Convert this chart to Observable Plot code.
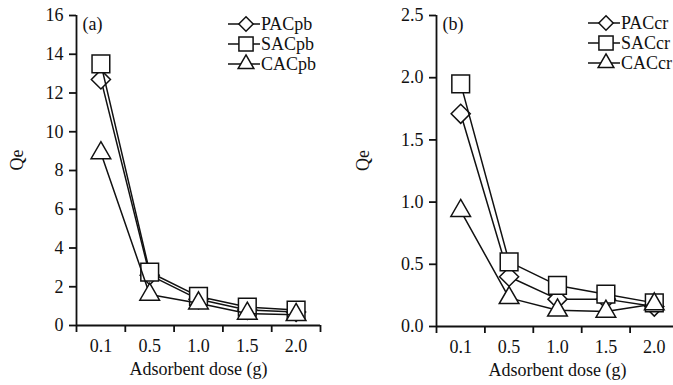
<!DOCTYPE html>
<html><head><meta charset="utf-8">
<script src="https://cdn.jsdelivr.net/npm/d3@7"></script>
<script src="https://cdn.jsdelivr.net/npm/@observablehq/plot@0.6"></script>
<style>
body{margin:0;background:#fff;}
#wrap{position:relative;width:673px;height:385px;overflow:hidden;display:flex;}
#wrap > svg{flex:none;}
#wrap svg, #wrap svg text{font-family:"Liberation Serif","Times New Roman",serif !important;}
#wrap svg text{font-size:18px;}
#legend{position:absolute;left:0;top:0;}
</style></head><body><div id="wrap"></div>
<script>
const doses = ["0.1","0.5","1.0","1.5","2.0"];
const pacPb = [12.7, 2.6, 1.35, 0.8, 0.7];
const sacPb = [13.5, 2.75, 1.5, 0.95, 0.8];
const cacPb = [8.9, 1.6, 1.15, 0.62, 0.55];
const pacCr = [1.71, 0.40, 0.22, 0.22, 0.16];
const sacCr = [1.95, 0.52, 0.33, 0.26, 0.19];
const cacCr = [0.93, 0.23, 0.13, 0.12, 0.18];
const namesPb = ["PACpb","SACpb","CACpb"];
const namesCr = ["PACcr","SACcr","CACcr"];
const yTicksPb = [0,2,4,6,8,10,12,14,16];
const yTicksCr = [0,0.5,1.0,1.5,2.0,2.5];

const FONT = "'Liberation Serif', 'Times New Roman', serif";
const symbols = ["diamond2","square","triangle"];
const radii = [8.6, 10, 7.3];
const d3Symbols = [d3.symbolDiamond2, d3.symbolSquare, d3.symbolTriangle];

function rows(values, name) {
  return values.map((v, i) => ({x: i + 0.5, y: v, name}));
}

function panel({series, names, yMax, yTicks, yFmt, width, marginLeft, marginRight, marginBottom, tag, qeDx}) {
  const marks = [];
  series.forEach((vals, k) => {
    const data = rows(vals, names[k]);
    marks.push(Plot.line(data, {x: "x", y: "y", stroke: "#111", strokeWidth: 1.5}));
    marks.push(Plot.dot(data, {x: "x", y: "y", symbol: () => symbols[k], r: radii[k], fill: "white", stroke: "#111", strokeWidth: 1.5}));
  });
  return Plot.plot({
    width, height: 385,
    marginTop: 15, marginBottom, marginLeft, marginRight,
    style: {fontFamily: FONT, fontSize: "18px", color: "#111", background: "white", overflow: "visible"},
    x: {domain: [0, doses.length]},
    y: {domain: [0, yMax]},
    symbol: {type: "identity"},
    marks: [
      Plot.axisY({ticks: yTicks, tickSize: 7, tickPadding: 6, tickFormat: yFmt, label: null, strokeWidth: 1.8, fontSize: 18}),
      Plot.axisX({ticks: d3.range(doses.length + 1), tickSize: 7, tickFormat: () => "", label: null, strokeWidth: 1.8}),
      Plot.axisX({ticks: doses.map((_, i) => i + 0.5), tickSize: 0, tickPadding: 14, tickFormat: (d) => doses[Math.floor(d)], label: null, fontSize: 18}),
      Plot.ruleY([0], {stroke: "#111", strokeWidth: 1.8}),
      Plot.ruleX([0], {stroke: "#111", strokeWidth: 1.8}),
      Plot.text(["Adsorbent dose (g)"], {frameAnchor: "bottom", dy: 44, lineAnchor: "middle", fill: "#111", fontSize: 18}),
      Plot.text(["Qe"], {frameAnchor: "left", dx: qeDx, rotate: -90, lineAnchor: "middle", fill: "#111", fontSize: 18}),
      Plot.text([tag], {frameAnchor: "top-left", dx: 6, dy: 9, lineAnchor: "middle", textAnchor: "start", fill: "#111", fontSize: 18}),
      ...marks
    ]
  });
}

const wrap = document.getElementById("wrap");
wrap.append(panel({series: [pacPb, sacPb, cacPb], names: namesPb, yMax: 16, yTicks: yTicksPb, yFmt: d3.format("d"),
  width: 340, marginLeft: 76, marginRight: 20, marginBottom: 60, tag: "(a)", qeDx: -59}));
wrap.append(panel({series: [pacCr, sacCr, cacCr], names: namesCr, yMax: 2.5, yTicks: yTicksCr, yFmt: d3.format(".1f"),
  width: 345, marginLeft: 96, marginRight: 7, marginBottom: 59, tag: "(b)", qeDx: -73}));

// legends
const leg = d3.select(wrap).append("svg").attr("id", "legend").attr("width", 673).attr("height", 385);
const legScale = [0.75, 0.8, 0.8];
function legend(names, lx, ys) {
  names.forEach((n, k) => {
    const g = leg.append("g").attr("transform", `translate(${lx},${ys[k]})`);
    g.append("line").attr("x1", 0).attr("x2", 32).attr("stroke", "#111").attr("stroke-width", 1.5);
    const r = radii[k] * legScale[k];
    g.append("path").attr("d", d3.symbol(d3Symbols[k], r * r * Math.PI)()).attr("transform", "translate(18,0)")
      .attr("fill", "white").attr("stroke", "#111").attr("stroke-width", 1.5);
    g.append("text").attr("x", 33).attr("dy", "0.33em").attr("fill", "#111").text(n);
  });
}
legend(namesPb, 228, [24, 44, 64]);
legend(namesCr, 588, [23, 43, 63]);
</script></body></html>
